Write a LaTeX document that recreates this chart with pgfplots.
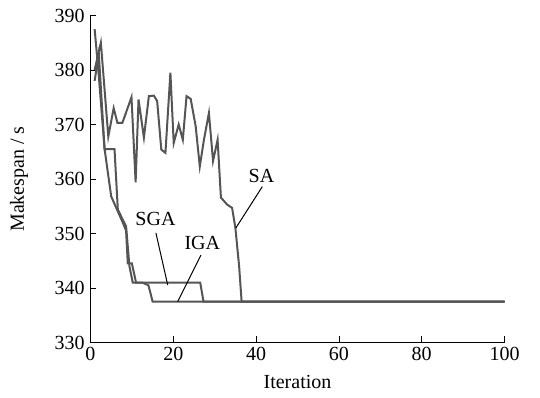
\documentclass[border=0pt]{standalone}
\usepackage{pgfplots}
\pgfplotsset{compat=1.18}
\usepackage{fontspec}
\setmainfont{Liberation Serif}
\definecolor{curve}{HTML}{555555}
\begin{document}
\fontsize{20}{24}\selectfont
\begin{tikzpicture}
\useasboundingbox (-90.5pt,-55.5pt) rectangle (449.5pt,342.5pt);
\begin{axis}[
  at={(0,0)}, anchor=south west,
  scale only axis, width=414pt, height=327pt,
  xmin=0, xmax=100, ymin=330, ymax=390,
  axis x line*=bottom, axis y line*=left,
  axis line style={-, line width=1pt},
  xtick={0,20,...,100}, ytick={330,340,...,390},
  tick align=inside, major tick length=6pt,
  tick style={line width=0.8pt, black},
  /pgf/number format/assume math mode=true,
  ticklabel style={font=\fontsize{20}{24}\selectfont},
  xticklabel style={yshift=2pt},
  yticklabel style={xshift=1pt},
  xlabel={Iteration}, ylabel={Makespan / s},
  label style={font=\fontsize{20}{24}\selectfont},
  xlabel style={yshift=-1pt},
  ylabel style={yshift=13pt},
  clip=false,
]
\addplot[curve, line width=2pt] coordinates {
(1,380) (2.5,385) (4.3,367.8) (5.6,373) (6.5,370.3) (7.7,370.3) (9.9,375)
(10.9,359.4) (11.6,374.6) (12.9,367.6) (14.1,375.2) (15.3,375.3) (16.1,374.3)
(17.1,365.4) (18.1,364.8) (19.3,379.5) (20.1,366.6) (21.3,370) (22.3,367.2)
(23.2,375.2) (24.2,374.7) (25.4,369.7) (26.4,362.3) (27.4,367.2) (28.6,372.1)
(29.6,363.3) (30.7,367.2) (31.5,356.6) (33,355.3) (34.2,354.7) (35,351)
(35.9,344) (36.5,337.5) (100,337.5)};
\addplot[curve, line width=2pt] coordinates {
(1,378) (2,383) (3.4,365.5) (5,356.8) (7.8,352) (8.6,350.5) (9,344.5)
(10,344.5) (11,341) (26.5,341) (27.3,337.5) (100,337.5)};
\addplot[curve, line width=2pt] coordinates {
(1,387.5) (2,379) (3.4,365.5) (5.8,365.5) (6.6,354.4) (8.6,351.3) (9.4,344)
(10.2,341) (12.5,341) (14,340.5) (15,337.5) (100,337.5)};
\draw[line width=1pt] (axis cs:15.8,350.1) -- (axis cs:18.65,340.55);
\draw[line width=1pt] (axis cs:26.7,346.05) -- (axis cs:21.06,337.5);
\draw[line width=1pt] (axis cs:41.5,358.6) -- (axis cs:35.1,351.0);
\node at (axis cs:15.7,352.7) {SGA};
\node at (axis cs:27.0,348.3) {IGA};
\node at (axis cs:41.3,360.6) {SA};
\end{axis}
\end{tikzpicture}
\end{document}
